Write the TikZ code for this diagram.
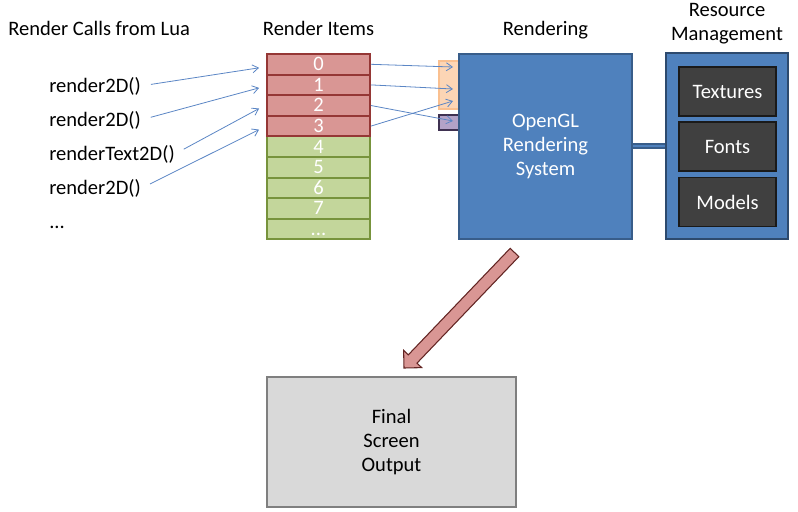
\documentclass[tikz,border=0pt]{standalone}
\usepackage{fontspec}
\setmainfont{Carlito}
\usetikzlibrary{arrows.meta, positioning, calc}
\definecolor{redfill}{HTML}{D99694}
\definecolor{redline}{HTML}{953735}
\definecolor{greenfill}{HTML}{C3D69B}
\definecolor{greenline}{HTML}{77933C}
\definecolor{bluefill}{HTML}{4F81BD}
\definecolor{blueline}{HTML}{385D8A}
\definecolor{callc}{HTML}{5B86C5}
\definecolor{orangefill}{HTML}{FCD5B5}
\definecolor{orangeline}{HTML}{FAC090}
\definecolor{purplefill}{HTML}{B3A2C7}
\definecolor{purpleline}{HTML}{3F3151}
\definecolor{darkfill}{HTML}{404040}
\definecolor{darkline}{HTML}{1A1A1A}
\definecolor{grayfill}{HTML}{D9D9D9}
\definecolor{grayline}{HTML}{7F7F7F}
\definecolor{bigline}{HTML}{632523}
\def\px{0.75pt}
\tikzset{
  txt/.style={inner sep=0pt, font=\fontsize{15.4}{18}\selectfont},
  itembox/.style={draw=#1line, fill=#1fill, line width=1.4pt, inner sep=0pt,
    minimum width=103*\px, minimum height=20.6*\px, text=white,
    text height=9.7pt, text depth=0pt,
    font=\fontsize{15.4}{18}\selectfont},
  callarrow/.style={callc, line width=0.6pt, -{Straight Barb[length=4.5pt, width=6pt]}},
  resbox/.style={draw=darkline, fill=darkfill, line width=1.1pt, text=white,
    minimum width=97*\px, minimum height=49*\px, inner sep=0pt,
    font=\fontsize{15.4}{18}\selectfont},
}
\begin{document}
\begin{tikzpicture}[x=0.75pt, y=-0.75pt]
  \useasboundingbox (0,0) rectangle (798,511);
  % column titles
  \node[txt, anchor=base west] (tcalls) at (8,35) {Render Calls from Lua};
  \node[txt, anchor=base] (titems) at (318.5,35) {Render Items};
  \node[txt, anchor=base] (trend) at (545.5,35) {Rendering};
  \node[txt, anchor=north, align=center] (tres) at (727,3.5) {Resource\\Management};
  % calls from lua
  \node[txt, anchor=base west] (c1) at (49,92) {render2D()};
  \node[txt, anchor=base west] (c2) at (49,126) {render2D()};
  \node[txt, anchor=base west] (c3) at (49,160) {renderText2D()};
  \node[txt, anchor=base west] (c4) at (49,194.5) {render2D()};
  \node[txt, anchor=base west] (c5) at (49,228) {...};
  % render items
  \foreach \i in {4,...,7}
    \node[itembox=green] (it\i) at (318.5,64.3+20.6*\i) {\i};
  \node[itembox=green] (it8) at (318.5,64.3+20.6*8) {...};
  \foreach \i in {0,...,3}
    \node[itembox=red] (it\i) at (318.5,64.3+20.6*\i) {\i};
  % input ports, behind the rendering box
  \node[draw=orangeline, fill=orangefill, line width=1pt, minimum width=21*\px,
        minimum height=48*\px, inner sep=0pt] (ob) at (449.5,85) {};
  \node[draw=purpleline, fill=purplefill, line width=1.2pt, minimum width=21*\px,
        minimum height=15*\px, inner sep=0pt] (pb) at (449.5,122.5) {};
  \coordinate (in0) at (453,67);
  \coordinate (in1) at (453,89);
  \coordinate (in2) at (453,121);
  \coordinate (in3) at (453,101);
  % rendering system
  \node[draw=blueline, fill=bluefill, line width=1.2pt, text=white, align=center,
        minimum width=173*\px, minimum height=185*\px, txt] (gl) at (545.5,146.5)
        {OpenGL\\Rendering\\System};
  % resource management
  \node[draw=blueline!80!black, fill=bluefill, line width=1.2pt,
        minimum width=122*\px, minimum height=186*\px, inner sep=0pt] (rm) at (727,146) {};
  \node[resbox] (tex) at (727.5,91.5) {Textures};
  \node[resbox] (fnt) at (727.5,146.5) {Fonts};
  \node[resbox] (mdl) at (727.5,202) {Models};
  \draw[draw=blueline, double=bluefill, line width=0.8pt, double distance=2.2pt]
    (gl.east |- rm.west) -- (rm.west);
  % calls into items
  \draw[callarrow, shorten <=10*\px] (c1.east) -- ($(it0.west)+(-7,3.5)$);
  \draw[callarrow, shorten <=10*\px] (c2.east) -- ($(it1.west)+(-7,3)$);
  \draw[callarrow, shorten <=10*\px] (c3.east) -- ($(it2.west)+(-7,3)$);
  \draw[callarrow, shorten <=10*\px] (c4.east) -- ($(it3.west)+(-7,3.5)$);
  % items into ports
  \foreach \i in {0,...,3}
    \draw[callarrow] (it\i.east) -- (in\i);
  % output arrow
  \coordinate (bt) at (514.5,252.5);
  \coordinate (bh) at (404,368);
  \coordinate (bb) at ($(bh)!9.375pt!(bt)$);
  \draw[draw=bigline, fill=redfill, line width=0.8pt]
    ($(bt)!4.5pt!90:(bh)$) -- ($(bb)!4.5pt!90:(bh)$) -- ($(bb)!9.375pt!90:(bh)$)
    -- (bh) -- ($(bb)!9.375pt!-90:(bh)$) -- ($(bb)!4.5pt!-90:(bh)$)
    -- ($(bt)!4.5pt!-90:(bh)$) -- cycle;
  % final output
  \node[draw=grayline, fill=grayfill, line width=1.2pt, align=center,
        minimum width=249*\px, minimum height=130*\px, txt] (out) at (391.5,442)
        {Final\\Screen\\Output};
\end{tikzpicture}
\end{document}
